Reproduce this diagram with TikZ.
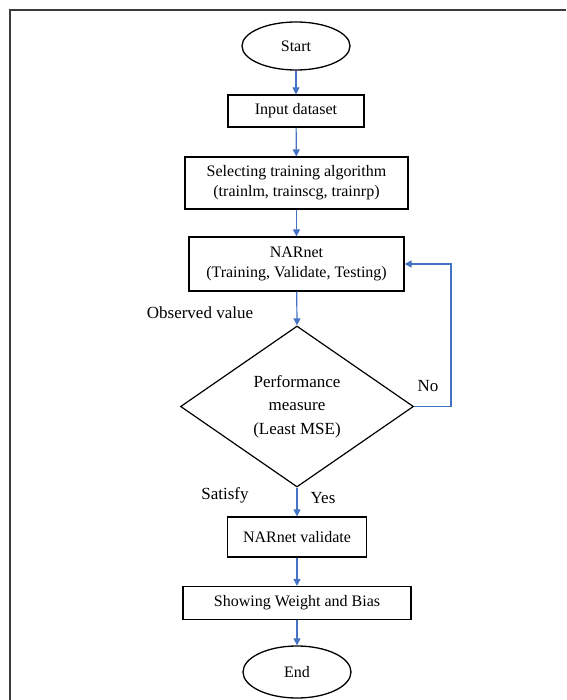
\documentclass[tikz,border=0pt]{standalone}
\usepackage{fontspec}
\setmainfont{Liberation Serif}
\usetikzlibrary{arrows.meta,shapes.geometric,shadows}
\definecolor{flowblue}{HTML}{4472C4}
\definecolor{framegray}{HTML}{3A3A3A}
\begin{document}
\begin{tikzpicture}[x=1pt,y=-1pt,
  boxtext/.style={font=\fontsize{16}{20}\selectfont},
  procbox/.style={draw=black,line width=1.2pt,fill=white,rectangle,align=center,inner sep=0pt,boxtext,
    drop shadow={opacity=0.18,shadow xshift=0.8pt,shadow yshift=-0.8pt}},
  termin/.style={draw=black,line width=1.3pt,fill=white,ellipse,inner sep=0pt,boxtext},
  decision/.style={draw=black,line width=1.2pt,diamond,aspect=1.45,inner sep=0pt,align=center,
    font=\fontsize{17}{23.5}\selectfont},
  lbl/.style={font=\fontsize{17}{20}\selectfont,inner sep=0pt},
  flow/.style={draw=flowblue,line width=1.2pt,-{Triangle[length=7pt,width=7pt]}}
]
\useasboundingbox (0,0) rectangle (566,700);
% frame
\draw[framegray,line width=1.4pt] (10,700) -- (10,10) -- (566,10);

\node[termin,minimum width=108pt,minimum height=48pt] (start) at (296,46) {Start};
\node[procbox,minimum width=136pt,minimum height=32pt] (input) at (296,111) {Input dataset};
\node[procbox,minimum width=223pt,minimum height=52pt] (select) at (296.5,183) {Selecting training algorithm\\(trainlm, trainscg, trainrp)};
\node[procbox,minimum width=215pt,minimum height=54pt] (nar) at (296.5,264) {NARnet\\(Training, Validate, Testing)};
\node[decision,minimum width=233pt,minimum height=161pt] (perf) at (297,406.5) {Performance\\measure\\(Least MSE)};
\node[procbox,minimum width=139pt,minimum height=40pt] (valid) at (297,537) {NARnet validate};
\node[procbox,minimum width=228pt,minimum height=33pt] (show) at (297,603) {Showing Weight and Bias};
\node[termin,minimum width=108pt,minimum height=52pt] (stop) at (297,672) {End};

\node[lbl] (obs) at (200,313) {Observed value};
\node[lbl] (no) at (428,386) {No};
\node[lbl] (sat) at (225,495) {Satisfy};
\node[lbl] (yes) at (323,498) {Yes};

\coordinate (fb) at (451,264);

\draw[flow] (start) -- (input);
\draw[flow] (input) -- (select);
\draw[flow] (select) -- (nar);
\draw[flow] (nar) -- (perf.north);
\draw[flow] (perf.south) -- (valid);
\draw[flow] (valid) -- (show);
\draw[flow] (show) -- (stop);
\draw[flow] (perf.east) -| (fb) -- (nar.east);
\end{tikzpicture}
\end{document}
